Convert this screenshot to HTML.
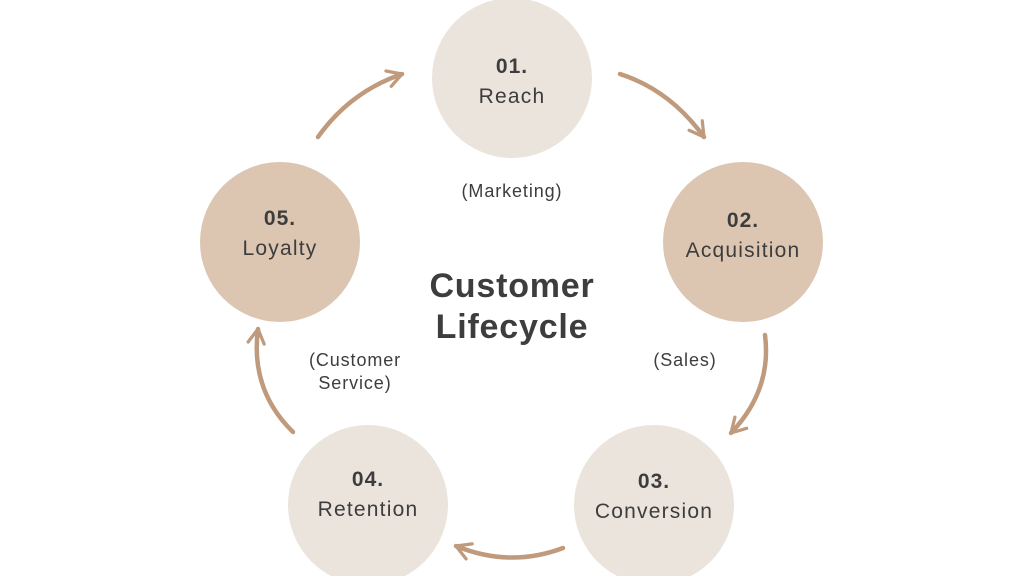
<html><body style="margin:0;background:#fff">
<svg width="1024" height="576" xmlns="http://www.w3.org/2000/svg" style="display:block">
<defs><marker id="a" viewBox="0 0 10 10" refX="8" refY="5" markerWidth="4.5" markerHeight="4.5" orient="auto" markerUnits="strokeWidth"><path d="M1,1 L8,5 L1,9" fill="none" stroke="#c09a7c" stroke-width="1.6" stroke-linecap="round" stroke-linejoin="round"/></marker></defs>
<circle cx="512" cy="78" r="80" fill="#ebe4dc"/>
<circle cx="743" cy="242" r="80" fill="#dcc6b2"/>
<circle cx="654" cy="505" r="80" fill="#ebe4dc"/>
<circle cx="368" cy="505" r="80" fill="#ebe4dc"/>
<circle cx="280" cy="242" r="80" fill="#dcc6b2"/>
<g fill="none" stroke="#c09a7c" stroke-width="4.5" stroke-linecap="round" marker-end="url(#a)">
<path d="M620,74 Q670,90 704,137"/>
<path d="M765,335 Q772,390 731,433"/>
<path d="M563,548 Q510,568 456,546"/>
<path d="M293,432 Q250,390 258,329"/>
<path d="M318,137 Q350,92 402,74"/>
</g>
<g font-family="Liberation Sans, sans-serif" fill="#3d3d3d" text-anchor="middle">
<g font-size="21" font-weight="bold" letter-spacing="1">
<text x="512" y="73">01.</text>
<text x="743" y="227">02.</text>
<text x="654" y="488">03.</text>
<text x="368" y="486">04.</text>
<text x="280" y="225">05.</text>
</g>
<g font-size="21" letter-spacing="1.2">
<text x="512" y="103">Reach</text>
<text x="743" y="257">Acquisition</text>
<text x="654" y="518">Conversion</text>
<text x="368" y="516">Retention</text>
<text x="280" y="255">Loyalty</text>
</g>
<g font-size="18" letter-spacing="0.9">
<text x="512" y="197">(Marketing)</text>
<text x="685" y="366">(Sales)</text>
<text x="355" y="366">(Customer</text>
<text x="355" y="389">Service)</text>
</g>
<text x="512" y="297" font-size="34" font-weight="bold" letter-spacing="0.8">Customer</text>
<text x="512" y="338" font-size="34" font-weight="bold" letter-spacing="0.8">Lifecycle</text>
</g>
</svg>
</body></html>
